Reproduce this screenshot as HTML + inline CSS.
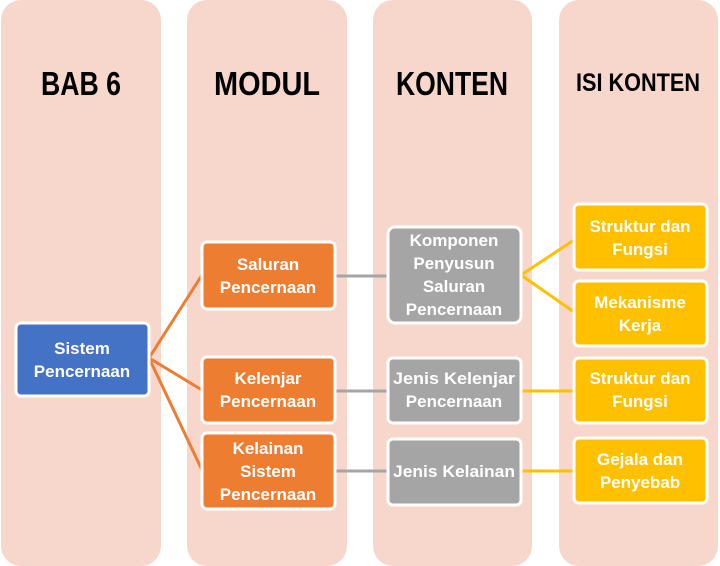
<!DOCTYPE html>
<html><head><meta charset="utf-8"><style>
html,body{margin:0;padding:0;background:#fff;width:720px;height:566px;overflow:hidden}
svg{display:block}
text{font-family:"Liberation Sans",sans-serif;font-weight:bold}
.h{fill:#000}
.b{fill:#fff}
</style></head><body>
<svg width="720" height="566" viewBox="0 0 720 566">
<g fill="#f7d7cc">
<rect x="1" y="0" width="160" height="566" rx="20"/>
<rect x="187" y="0" width="160" height="566" rx="20"/>
<rect x="373" y="0" width="159" height="566" rx="20"/>
<rect x="559" y="0" width="159" height="566" rx="20"/>
</g>
<text class="h" x="81" y="95" font-size="33" text-anchor="middle" textLength="80" lengthAdjust="spacingAndGlyphs">BAB 6</text>
<text class="h" x="267" y="95" font-size="33" text-anchor="middle" textLength="106" lengthAdjust="spacingAndGlyphs">MODUL</text>
<text class="h" x="452" y="95" font-size="33" text-anchor="middle" textLength="112" lengthAdjust="spacingAndGlyphs">KONTEN</text>
<text class="h" x="638" y="91" font-size="25" text-anchor="middle" textLength="124" lengthAdjust="spacingAndGlyphs">ISI KONTEN</text>
<g stroke="#ed7d31" stroke-width="3">
<line x1="149" y1="358" x2="202" y2="275"/>
<line x1="149" y1="358" x2="202" y2="390"/>
<line x1="149" y1="358" x2="202" y2="470"/>
</g>
<g stroke="#a5a5a5" stroke-width="3">
<line x1="335" y1="276" x2="388" y2="276"/>
<line x1="335" y1="391" x2="388" y2="391"/>
<line x1="335" y1="471" x2="388" y2="471"/>
</g>
<g stroke="#ffc000" stroke-width="3">
<line x1="521" y1="275" x2="574" y2="240"/>
<line x1="521" y1="275" x2="574" y2="312"/>
<line x1="521" y1="391" x2="574" y2="391"/>
<line x1="521" y1="471" x2="574" y2="471"/>
</g>
<g stroke="#fff" stroke-width="3">
<rect x="16" y="323" width="133" height="73" rx="5" fill="#4472c4"/>
<rect x="202" y="242" width="133" height="67" rx="5" fill="#ed7d31"/>
<rect x="202" y="357" width="133" height="66" rx="5" fill="#ed7d31"/>
<rect x="202" y="433" width="133" height="76" rx="5" fill="#ed7d31"/>
<rect x="388" y="227" width="133" height="96" rx="7" fill="#a5a5a5"/>
<rect x="388" y="358" width="133" height="65" rx="5" fill="#a5a5a5"/>
<rect x="388" y="439" width="133" height="66" rx="5" fill="#a5a5a5"/>
<rect x="574" y="204" width="133" height="66" rx="5" fill="#ffc000"/>
<rect x="574" y="281" width="133" height="65" rx="5" fill="#ffc000"/>
<rect x="574" y="358" width="133" height="65" rx="5" fill="#ffc000"/>
<rect x="574" y="438" width="133" height="65" rx="5" fill="#ffc000"/>
</g>
<g class="b" text-anchor="middle" font-size="17">
<text x="82" y="354">Sistem</text><text x="82" y="377">Pencernaan</text>
<text x="268" y="270">Saluran</text><text x="268" y="293">Pencernaan</text>
<text x="268" y="384">Kelenjar</text><text x="268" y="407">Pencernaan</text>
<text x="268" y="454">Kelainan</text><text x="268" y="477">Sistem</text><text x="268" y="500">Pencernaan</text>
<text x="454" y="246">Komponen</text><text x="454" y="269">Penyusun</text><text x="454" y="292">Saluran</text><text x="454" y="315">Pencernaan</text>
<text x="454" y="384" textLength="122" lengthAdjust="spacingAndGlyphs">Jenis Kelenjar</text><text x="454" y="407">Pencernaan</text>
<text x="454" y="477" textLength="122" lengthAdjust="spacingAndGlyphs">Jenis Kelainan</text>
<text x="640" y="232">Struktur  dan</text><text x="640" y="255">Fungsi</text>
<text x="640" y="308">Mekanisme</text><text x="640" y="331">Kerja</text>
<text x="640" y="384">Struktur  dan</text><text x="640" y="407">Fungsi</text>
<text x="640" y="465">Gejala  dan</text><text x="640" y="488">Penyebab</text>
</g>
</svg>
</body></html>
